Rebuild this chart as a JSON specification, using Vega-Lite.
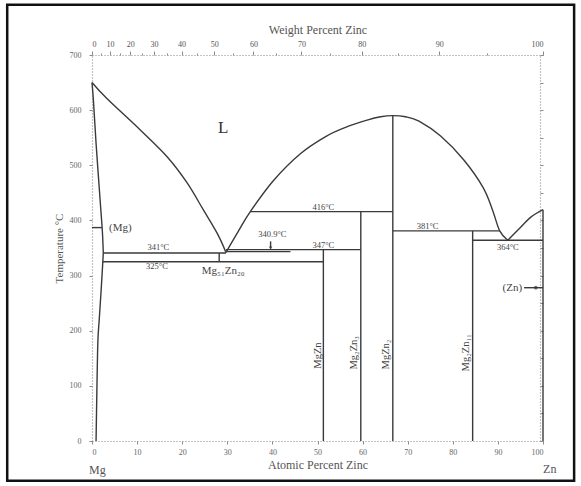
{
  "$schema": "https://vega.github.io/schema/vega-lite/v6.json",
  "width": 451,
  "height": 386,
  "autosize": {"type": "none"},
  "padding": {"left": 92, "top": 55, "right": 38, "bottom": 45},
  "background": "white",
  "config": {
    "view": {"stroke": null},
    "font": "Liberation Serif",
    "axis": {
      "grid": false,
      "domainColor": "#8a8a8a",
      "domainDash": [1, 2],
      "domainWidth": 1.2,
      "tickColor": "#8a8a8a",
      "tickSize": 3,
      "labelFont": "Liberation Serif",
      "labelFontSize": 8,
      "labelColor": "#666",
      "titleFont": "Liberation Serif",
      "titleFontSize": 12,
      "titleFontWeight": "normal",
      "titleColor": "#555"
    }
  },
  "datasets": {
    "curves": [
      {"seg": "liqL", "i": 0, "x": 0, "t": 650}, {"seg": "liqL", "i": 1, "x": 3.3, "t": 621}, {"seg": "liqL", "i": 2, "x": 10.7, "t": 564}, {"seg": "liqL", "i": 3, "x": 16.7, "t": 515}, {"seg": "liqL", "i": 4, "x": 21.1, "t": 468}, {"seg": "liqL", "i": 5, "x": 24.7, "t": 419}, {"seg": "liqL", "i": 6, "x": 27.8, "t": 376}, {"seg": "liqL", "i": 7, "x": 29.7, "t": 342},
      {"seg": "dome", "i": 0, "x": 29.7, "t": 342}, {"seg": "dome", "i": 1, "x": 32.5, "t": 381}, {"seg": "dome", "i": 2, "x": 35.1, "t": 416}, {"seg": "dome", "i": 3, "x": 40.2, "t": 472}, {"seg": "dome", "i": 4, "x": 46.2, "t": 521}, {"seg": "dome", "i": 5, "x": 52.0, "t": 553}, {"seg": "dome", "i": 6, "x": 56.6, "t": 570}, {"seg": "dome", "i": 7, "x": 61.0, "t": 582}, {"seg": "dome", "i": 8, "x": 64.0, "t": 588}, {"seg": "dome", "i": 9, "x": 66.7, "t": 590},
      {"seg": "dome", "i": 10, "x": 69.5, "t": 588}, {"seg": "dome", "i": 11, "x": 72.5, "t": 580}, {"seg": "dome", "i": 12, "x": 77.3, "t": 553}, {"seg": "dome", "i": 13, "x": 82.4, "t": 510}, {"seg": "dome", "i": 14, "x": 86.7, "t": 460}, {"seg": "dome", "i": 15, "x": 88.8, "t": 419}, {"seg": "dome", "i": 16, "x": 90.4, "t": 381}, {"seg": "dome", "i": 17, "x": 92.2, "t": 364},
      {"seg": "liqZn", "i": 0, "x": 92.2, "t": 364}, {"seg": "liqZn", "i": 1, "x": 95.1, "t": 388}, {"seg": "liqZn", "i": 2, "x": 97.3, "t": 406}, {"seg": "liqZn", "i": 3, "x": 100, "t": 419.5},
      {"seg": "solidus", "i": 0, "x": 0, "t": 650}, {"seg": "solidus", "i": 1, "x": 0.3, "t": 619}, {"seg": "solidus", "i": 2, "x": 0.9, "t": 540}, {"seg": "solidus", "i": 3, "x": 1.8, "t": 437}, {"seg": "solidus", "i": 4, "x": 2.3, "t": 380}, {"seg": "solidus", "i": 5, "x": 2.5, "t": 341},
      {"seg": "solvus", "i": 0, "x": 2.5, "t": 341}, {"seg": "solvus", "i": 1, "x": 2.4, "t": 325}, {"seg": "solvus", "i": 2, "x": 2.0, "t": 270}, {"seg": "solvus", "i": 3, "x": 1.6, "t": 220}, {"seg": "solvus", "i": 4, "x": 1.3, "t": 180}, {"seg": "solvus", "i": 5, "x": 1.1, "t": 100}, {"seg": "solvus", "i": 6, "x": 0.9, "t": 0}
    ],
    "lines": [
      {"seg": "h416", "i": 0, "x": 35.1, "t": 416}, {"seg": "h416", "i": 1, "x": 66.7, "t": 416},
      {"seg": "h381", "i": 0, "x": 66.7, "t": 381}, {"seg": "h381", "i": 1, "x": 90.4, "t": 381},
      {"seg": "h364", "i": 0, "x": 84.4, "t": 364}, {"seg": "h364", "i": 1, "x": 100, "t": 364},
      {"seg": "h347", "i": 0, "x": 29.7, "t": 347}, {"seg": "h347", "i": 1, "x": 59.6, "t": 347},
      {"seg": "h341", "i": 0, "x": 2.5, "t": 341}, {"seg": "h341", "i": 1, "x": 29.7, "t": 341},
      {"seg": "h3409", "i": 0, "x": 29.7, "t": 343.5}, {"seg": "h3409", "i": 1, "x": 44, "t": 343.5},
      {"seg": "h325", "i": 0, "x": 2.4, "t": 325}, {"seg": "h325", "i": 1, "x": 51.3, "t": 325},
      {"seg": "vMg51Zn20", "i": 0, "x": 28.2, "t": 325}, {"seg": "vMg51Zn20", "i": 1, "x": 28.2, "t": 341},
      {"seg": "vMgZn", "i": 0, "x": 51.3, "t": 0}, {"seg": "vMgZn", "i": 1, "x": 51.3, "t": 347},
      {"seg": "vMg2Zn3", "i": 0, "x": 59.6, "t": 0}, {"seg": "vMg2Zn3", "i": 1, "x": 59.6, "t": 416},
      {"seg": "vMgZn2", "i": 0, "x": 66.7, "t": 0}, {"seg": "vMgZn2", "i": 1, "x": 66.7, "t": 590},
      {"seg": "vMg2Zn11", "i": 0, "x": 84.4, "t": 0}, {"seg": "vMg2Zn11", "i": 1, "x": 84.4, "t": 381},
      {"seg": "vZn", "i": 0, "x": 100, "t": 0}, {"seg": "vZn", "i": 1, "x": 100, "t": 419.5},
      {"seg": "tickMg", "i": 0, "x": 0, "t": 387}, {"seg": "tickMg", "i": 1, "x": 2.2, "t": 387},
      {"seg": "arrowZn", "i": 0, "x": 95.8, "t": 278}, {"seg": "arrowZn", "i": 1, "x": 100, "t": 278},
      {"seg": "arrow3409", "i": 0, "x": 39.6, "t": 362}, {"seg": "arrow3409", "i": 1, "x": 39.6, "t": 349}
    ],
    "temps": [
      {"label": "341°C", "x": 14.7, "t": 352},
      {"label": "325°C", "x": 14.4, "t": 317},
      {"label": "340.9°C", "x": 40, "t": 376},
      {"label": "347°C", "x": 51.3, "t": 355},
      {"label": "416°C", "x": 51.3, "t": 424},
      {"label": "381°C", "x": 74.4, "t": 389},
      {"label": "364°C", "x": 92.2, "t": 351}
    ],
    "phases": [
      {"label": "(Mg)", "x": 6.3, "t": 387},
      {"label": "(Zn)", "x": 93.2, "t": 278},
      {"label": "Mg₅₁Zn₂₀", "x": 29.1, "t": 309}
    ],
    "compounds": [
      {"label": "MgZn", "x": 50.0, "t": 155},
      {"label": "Mg₂Zn₃", "x": 58.1, "t": 160},
      {"label": "MgZn₂", "x": 65.2, "t": 157},
      {"label": "Mg₂Zn₁₁", "x": 82.9, "t": 160}
    ],
    "big": [{"label": "L", "x": 29.1, "t": 568}],
    "ends": [
      {"label": "Mg", "x": 1.2, "t": -52},
      {"label": "Zn", "x": 101.5, "t": -50}
    ],
    "marks": [
      {"kind": "dot", "x": 98.4, "t": 278},
      {"kind": "arrowhead", "x": 39.6, "t": 350}
    ],
    "frame": [{"x": -18.8, "x2": 106.9, "t": 791, "t2": -72}]
  },
  "resolve": {"axis": {"x": "independent", "y": "independent"}},
  "layer": [
    {
      "data": {"name": "frame"},
      "mark": {"type": "rect", "fill": null, "stroke": "#111", "strokeWidth": 2.5, "clip": false},
      "encoding": {
        "x": {"field": "x", "type": "quantitative", "scale": {"domain": [0, 100], "nice": false, "zero": false}, "axis": null},
        "x2": {"field": "x2"},
        "y": {"field": "t", "type": "quantitative", "scale": {"domain": [0, 700], "nice": false, "zero": false}, "axis": null},
        "y2": {"field": "t2"}
      }
    },
    {
      "data": {"name": "lines"},
      "mark": {"type": "line", "color": "#3a3a3a", "strokeWidth": 1.4},
      "encoding": {
        "x": {
          "field": "x", "type": "quantitative",
          "scale": {"domain": [0, 100], "nice": false, "zero": false},
          "axis": {"orient": "bottom", "values": [0, 10, 20, 30, 40, 50, 60, 70, 80, 90, 100], "title": "Atomic Percent Zinc", "labelPadding": 4, "titlePadding": 3}
        },
        "y": {
          "field": "t", "type": "quantitative",
          "scale": {"domain": [0, 700], "nice": false, "zero": false},
          "axis": {"orient": "left", "values": [0, 100, 200, 300, 400, 500, 600, 700], "title": "Temperature °C", "titleFontSize": 11, "labelPadding": 8, "titlePadding": 5}
        },
        "detail": {"field": "seg"},
        "order": {"field": "i"}
      }
    },
    {
      "data": {"name": "curves"},
      "mark": {"type": "line", "color": "#3a3a3a", "strokeWidth": 1.4, "interpolate": "cardinal"},
      "encoding": {
        "x": {"field": "x", "type": "quantitative", "scale": {"domain": [0, 100], "nice": false, "zero": false}, "axis": null},
        "y": {"field": "t", "type": "quantitative", "scale": {"domain": [0, 700], "nice": false, "zero": false}, "axis": null},
        "detail": {"field": "seg"},
        "order": {"field": "i"}
      }
    },
    {
      "data": {"name": "temps"},
      "mark": {"type": "text", "fontSize": 8.5, "color": "#444", "font": "Liberation Serif"},
      "encoding": {
        "x": {
          "field": "x", "type": "quantitative",
          "scale": {"domain": [0, 100], "nice": false, "zero": false},
          "axis": {"orient": "top", "title": "Weight Percent Zinc", "values": [0, 3.97, 8.5, 13.74, 19.86, 27.1, 35.8, 46.45, 59.79, 76.99, 100], "labelExpr": "format(round(datum.value*65.38/(datum.value*65.38+(100-datum.value)*24.305)*100), 'd')", "labelPadding": 3, "titlePadding": 4, "tickSize": 4, "labelColor": "#555"}
        },
        "y": {
          "field": "t", "type": "quantitative",
          "scale": {"domain": [0, 700], "nice": false, "zero": false},
          "axis": {"orient": "right", "labels": false, "title": null, "values": [0, 50, 100, 150, 200, 250, 300, 350, 400, 450, 500, 550, 600, 650, 700], "tickSize": 3, "offset": -3}
        },
        "text": {"field": "label"}
      }
    },
    {
      "data": {"name": "phases"},
      "mark": {"type": "text", "fontSize": 11, "color": "#444", "font": "Liberation Serif"},
      "encoding": {
        "x": {
          "field": "x", "type": "quantitative",
          "scale": {"domain": [0, 100], "nice": false, "zero": false},
          "axis": {"orient": "top", "title": null, "labels": false, "domain": false, "tickSize": 2, "values": [1.919, 6.156, 11.025, 16.678, 23.322, 31.242, 40.842, 52.725, 67.81, 87.598]}
        },
        "y": {"field": "t", "type": "quantitative", "scale": {"domain": [0, 700], "nice": false, "zero": false}, "axis": null},
        "text": {"field": "label"}
      }
    },
    {
      "data": {"name": "compounds"},
      "mark": {"type": "text", "fontSize": 10.5, "angle": 270, "color": "#444", "font": "Liberation Serif"},
      "encoding": {
        "x": {"field": "x", "type": "quantitative", "scale": {"domain": [0, 100], "nice": false, "zero": false}, "axis": null},
        "y": {"field": "t", "type": "quantitative", "scale": {"domain": [0, 700], "nice": false, "zero": false}, "axis": null},
        "text": {"field": "label"}
      }
    },
    {
      "data": {"name": "big"},
      "mark": {"type": "text", "fontSize": 17, "color": "#333", "font": "Liberation Serif"},
      "encoding": {
        "x": {"field": "x", "type": "quantitative", "scale": {"domain": [0, 100], "nice": false, "zero": false}, "axis": null},
        "y": {"field": "t", "type": "quantitative", "scale": {"domain": [0, 700], "nice": false, "zero": false}, "axis": null},
        "text": {"field": "label"}
      }
    },
    {
      "data": {"name": "ends"},
      "mark": {"type": "text", "fontSize": 12, "color": "#555", "font": "Liberation Serif", "clip": false},
      "encoding": {
        "x": {"field": "x", "type": "quantitative", "scale": {"domain": [0, 100], "nice": false, "zero": false}, "axis": null},
        "y": {"field": "t", "type": "quantitative", "scale": {"domain": [0, 700], "nice": false, "zero": false}, "axis": null},
        "text": {"field": "label"}
      }
    },
    {
      "data": {"name": "marks"},
      "mark": {"type": "point", "filled": true, "color": "#333"},
      "encoding": {
        "x": {"field": "x", "type": "quantitative", "scale": {"domain": [0, 100], "nice": false, "zero": false}, "axis": null},
        "y": {"field": "t", "type": "quantitative", "scale": {"domain": [0, 700], "nice": false, "zero": false}, "axis": null},
        "shape": {"field": "kind", "type": "nominal", "scale": {"domain": ["dot", "arrowhead"], "range": ["circle", "triangle-down"]}, "legend": null},
        "size": {"value": 14}
      }
    }
  ]
}
